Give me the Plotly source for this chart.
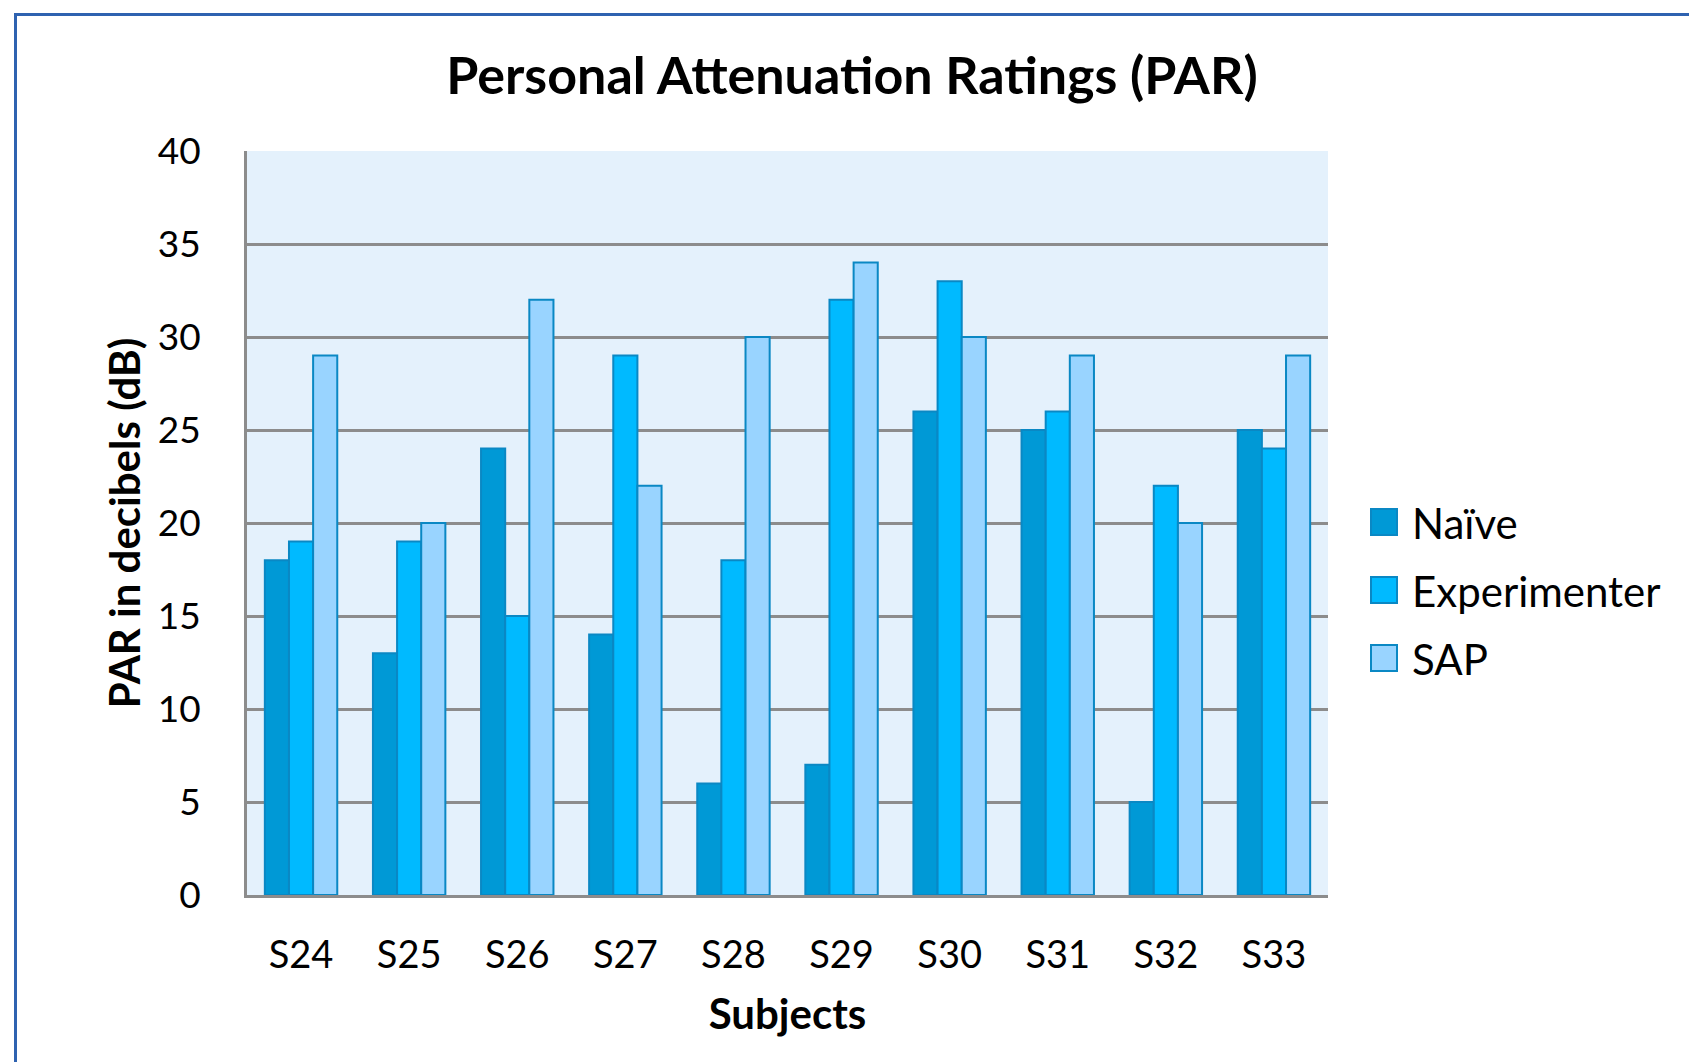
import plotly.graph_objects as go

subjects = ["S24", "S25", "S26", "S27", "S28", "S29", "S30", "S31", "S32", "S33"]
naive = [18, 13, 24, 14, 6, 7, 26, 25, 5, 25]
experimenter = [19, 19, 15, 29, 18, 32, 33, 26, 22, 24]
sap = [29, 20, 32, 22, 30, 34, 30, 29, 20, 29]
y_ticks = [0, 5, 10, 15, 20, 25, 30, 35, 40]
series_names = ["Naïve", "Experimenter", "SAP"]
series_colors = ["#0099D6", "#00BAFF", "#99D4FF"]

FONT = "Lato, 'Open Sans', sans-serif"
EDGE = "#0A88C4"

fig = go.Figure()
for name, vals, col in zip(series_names, [naive, experimenter, sap], series_colors):
    fig.add_trace(go.Bar(x=subjects, y=vals, name=name, showlegend=False,
                         marker=dict(color=col, line=dict(color=EDGE, width=2))))

W, H = 1697, 1062
OFF = 8  # page body margin
# plot area in page coordinates
PL, PR, PT, PB = 247, 1328, 151, 895
L = PL - OFF
T = PT - OFF
R = W - (PR - OFF)
B = H - (PB - OFF)
pw, ph = PR - PL, PB - PT

def px(x):  # page x -> paper
    return (x - PL) / pw

def py(y):  # page y -> paper
    return (PB - y) / ph

# outer blue frame
fig.add_shape(type="rect", xref="paper", yref="paper",
              x0=px(15.5), x1=px(1730), y0=py(14.5), y1=py(1100),
              line=dict(color="#2E62B0", width=3), fillcolor="rgba(0,0,0,0)",
              layer="below")

# legend (drawn manually so symbols match the reference size)
leg_y = [522, 590, 658]
for name, col, yc in zip(series_names, series_colors, leg_y):
    fig.add_shape(type="rect", xref="paper", yref="paper",
                  x0=px(1371), x1=px(1397), y0=py(yc + 13), y1=py(yc - 13),
                  line=dict(color=EDGE, width=2), fillcolor=col)
    fig.add_annotation(xref="paper", yref="paper", x=px(1410), y=py(yc + 1),
                       text=name, showarrow=False, xanchor="left", yanchor="middle",
                       font=dict(size=42, family=FONT, color="black"))

fig.update_layout(
    width=W, height=H,
    margin=dict(l=L, r=R, t=T, b=B),
    paper_bgcolor="white",
    plot_bgcolor="#E4F1FC",
    barmode="group", bargap=0.33, bargroupgap=0,
    showlegend=False,
    font=dict(family=FONT, color="black"),
    title=dict(text="<b>Personal Attenuation Ratings (PAR)</b>",
               x=(852 - OFF) / W, xanchor="center",
               y=1 - (76 - OFF) / H, yanchor="middle",
               font=dict(size=52, family=FONT, color="black")),
    xaxis=dict(title=dict(text="<b>Subjects</b>", font=dict(size=42, family=FONT), standoff=26),
               tickfont=dict(size=38, family=FONT), ticks="", ticklabelstandoff=24,
               showline=True, linecolor="#8C8C8C", linewidth=3, showgrid=False),
    yaxis=dict(title=dict(text="<b>PAR in decibels (dB)</b>", font=dict(size=42, family=FONT), standoff=4),
               tickfont=dict(size=37, family=FONT), range=[0, 40], tickvals=y_ticks,
               ticks="", ticklabelstandoff=36,
               showline=True, linecolor="#8C8C8C", linewidth=3,
               showgrid=True, gridcolor="#8C8C8C", gridwidth=3, zeroline=False),
)

fig.write_html("out.html")
